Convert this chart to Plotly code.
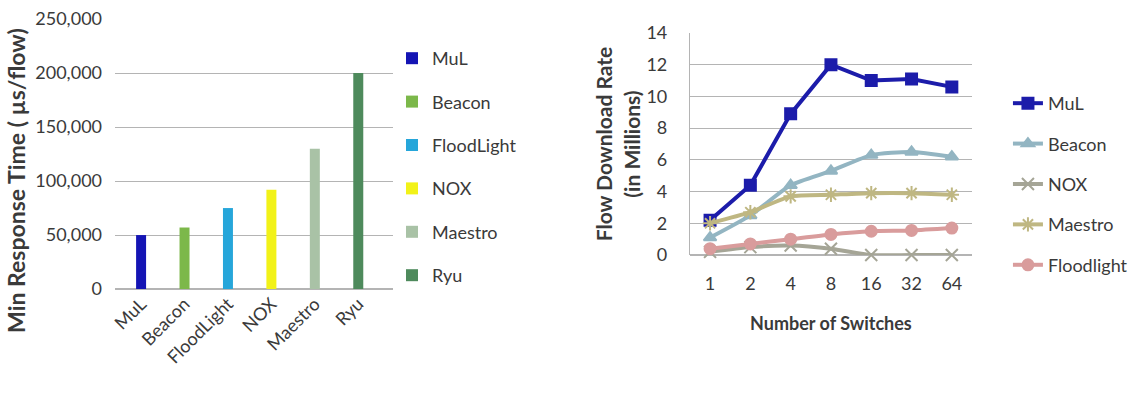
import plotly.graph_objects as go

# ---- data: left bar chart ----
controllers = ["MuL", "Beacon", "FloodLight", "NOX", "Maestro", "Ryu"]
min_response = [50000, 57000, 75000, 92000, 130000, 200000]
bar_colors = ["#1414b4", "#7cb84a", "#26a6da", "#f2f218", "#a9c2a6", "#4e8a5c"]
y_ticks = [0, 50000, 100000, 150000, 200000, 250000]

# ---- data: right line chart ----
switches = ["1", "2", "4", "8", "16", "32", "64"]
mul = [2.2, 4.4, 8.9, 12.0, 11.0, 11.1, 10.6]
beacon = [1.1, 2.5, 4.4, 5.3, 6.3, 6.5, 6.2]
nox = [0.2, 0.5, 0.6, 0.4, 0.0, 0.0, 0.0]
maestro = [2.0, 2.7, 3.7, 3.8, 3.9, 3.9, 3.8]
floodlight = [0.4, 0.7, 1.0, 1.3, 1.5, 1.55, 1.7]

FONT = "Lato"
TXT = "#3a3a3a"
GRID = "#b4b4b4"

fig = go.Figure()

for name, val, col in zip(controllers, min_response, bar_colors):
    fig.add_trace(go.Bar(
        x=[name], y=[val], name=name, width=0.23,
        marker=dict(color=col, line=dict(width=0)),
        xaxis="x", yaxis="y", legend="legend", legendgroup=name,
    ))

line_series = [
    ("MuL", mul, "#1c1caa", "square", 11, "linear"),
    ("Beacon", beacon, "#93b5c2", "triangle-up", 11, "spline"),
    ("NOX", nox, "#a5a596", "x-thin-open", 12, "spline"),
    ("Maestro", maestro, "#bfb782", "asterisk-open", 12, "spline"),
    ("Floodlight", floodlight, "#d99c9c", "circle", 11, "spline"),
]
for name, vals, col, sym, size, shape in line_series:
    fig.add_trace(go.Scatter(
        x=switches, y=vals, name=name, mode="lines+markers",
        line=dict(color=col, width=4, shape=shape, smoothing=0.6),
        marker=dict(symbol=sym, size=size, color=col, line=dict(color=col, width=2)),
        xaxis="x2", yaxis="y2", legend="legend2", legendgroup=name,
        cliponaxis=False,
    ))

fig.update_layout(
    width=1131, height=396,
    margin=dict(l=0, r=0, t=0, b=0, autoexpand=False),
    paper_bgcolor="white", plot_bgcolor="white",
    font=dict(family=FONT, size=18, color=TXT),
    barmode="overlay",
    xaxis=dict(
        domain=[0.1017, 0.3475], range=[-0.6, 5.8], type="category",
        tickangle=-45, showgrid=False, showline=False, ticks="", automargin=False,
        tickfont=dict(size=18, color=TXT), anchor="y",
    ),
    yaxis=dict(
        domain=[0.270, 0.952], range=[0, 250000], tickvals=y_ticks,
        tickformat=",d", showgrid=True, gridcolor=GRID, gridwidth=1, zeroline=True,
        zerolinecolor=GRID, showline=False, ticks="", tickfont=dict(size=18, color=TXT),
        ticklabelstandoff=12, automargin=False,
        anchor="x",
    ),
    xaxis2=dict(
        domain=[0.610, 0.8594], range=[-0.5, 6.5], type="category",
        showgrid=False, showline=False, ticks="", ticklabelstandoff=16, automargin=False,
        tickfont=dict(size=18, color=TXT),
        title=dict(text="<b>Number of Switches</b>", font=dict(size=18, color=TXT), standoff=24),
        anchor="y2",
    ),
    yaxis2=dict(
        domain=[0.356, 0.9167], range=[0, 14], dtick=2,
        showgrid=True, gridcolor=GRID, gridwidth=1, zeroline=True, zerolinecolor=GRID,
        showline=True, linecolor=GRID, ticks="", tickfont=dict(size=18, color=TXT),
        ticklabelstandoff=18, automargin=False,
        title=dict(text="<b>Flow Download Rate<br>(in Millions)</b>", font=dict(size=21, color=TXT), standoff=0),
        anchor="x2",
    ),
    legend=dict(
        x=0.3466, xanchor="left", y=0.899, yanchor="top",
        font=dict(size=18, color=TXT), tracegroupgap=17, bgcolor="rgba(0,0,0,0)",
    ),
    legend2=dict(
        x=0.8912, xanchor="left", y=0.7854, yanchor="top",
        font=dict(size=18, color=TXT), tracegroupgap=14, bgcolor="rgba(0,0,0,0)",
    ),
    annotations=[dict(
        text="<b>Min Response Time ( µs/flow)</b>", textangle=-90,
        xref="paper", yref="paper", x=0.0141, y=0.5455,
        xanchor="center", yanchor="middle", showarrow=False,
        font=dict(size=23, color=TXT),
    )],
)

fig.write_html("out.html", config={"displayModeBar": False},
               post_script="document.body.style.margin='0';")
